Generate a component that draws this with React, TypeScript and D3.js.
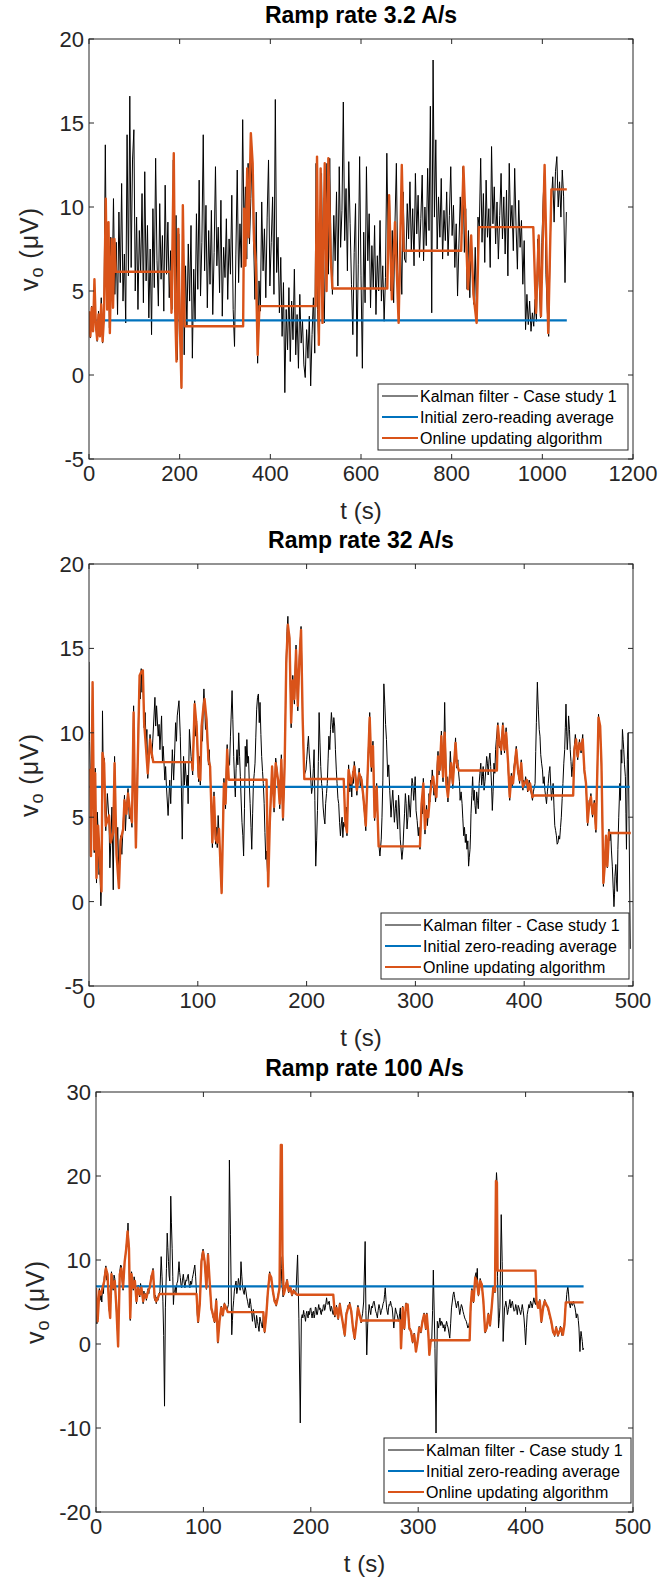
import * as d3 from 'd3';

const FONT = '"Liberation Sans", Arial, Helvetica, sans-serif';
const AXIS = '#262626';
const BLUE = '#0072BD';
const ORANGE = '#D95319';

type Pt = [number, number];

// ---- Ramp rate 3.2 A/s ----
const KALMAN1_DT = 3; // one value every 3 s, from t = 0
const kalman1 = [
  3.5, 2.2, 4.1, 2.6, 5.4, 3.0, 2.0, 3.8, 2.4, 4.6, 1.9, 3.6, 13.7, 4.2, 9.0, 2.8,
  8.2, 5.1, 10.5, 4.8, 7.9, 3.6, 9.7, 5.5, 11.4, 4.4, 7.2, 3.1, 14.3, 5.9, 16.6, 6.4,
  12.8, 14.6, 5.0, 9.4, 3.9, 8.6, 6.1, 10.8, 4.3, 12.1, 5.6, 8.9, 3.4, 7.5, 2.4, 9.9,
  5.2, 12.9, 6.8, 4.1, 10.2, 5.7, 8.3, 3.8, 11.3, 6.0, 9.1, 4.6, 7.4, 3.9, 12.8, 4.2,
  9.5, 0.9, 8.4, 2.6, -0.8, 10.0, 1.2, 6.5, 2.9, 7.8, 4.4, 8.9, 1.0, 6.3, 3.2, 9.6,
  5.1, 11.6, 4.7, 7.9, 14.3, 6.2, 10.1, 4.0, 8.6, 5.4, 9.8, 3.6, 7.3, 12.4, 6.5, 8.8,
  4.9, 10.4, 3.5, 7.6, 5.8, 9.3, 4.5, 8.1, 6.0, 10.7, 3.9, 1.7, 7.2, 12.2, 5.5, 9.0,
  6.4, 15.2, 8.3, 11.2, 6.9, 12.6, 7.8, 10.5, 13.4, 8.1, 4.5, 9.7, 0.7, 5.6, 3.8, 10.3,
  6.2, 8.7, 4.6, 9.4, 12.8, 5.3, 7.9, 10.6, 4.8, 16.4, 6.1, 8.2, 3.7, 7.0, 2.3, 5.5,
  -1.05, 3.9, 1.5, 5.2, 0.8, 4.4, 2.1, 6.3, 1.2, 3.6, 0.4, 4.8, 1.9, 3.2, 0.6, -0.15,
  2.7, 1.0, 3.5, -0.65, 2.4, 4.6, 1.3, 12.6, 3.9, 1.8, 7.5, 12.0, 5.1, 3.1, 8.4, 12.6,
  6.0, 12.9, 7.2, 4.8, 9.5, 6.8, 10.9, 5.3, 12.4, 7.6, 9.8, 16.25, 8.0, 11.1, 6.2, 12.7,
  9.0, 5.4, 2.4, 7.3, 10.2, 1.1, 6.6, 13.0, 5.9, 0.4, 8.5, 4.3, 12.4, 6.8, 9.6, 4.0,
  7.7, 5.2, 8.9, 3.6, 7.1, 5.0, 9.2, 4.4, 6.5, 3.2, 5.8, 13.2, 7.5, 10.4, 5.0, 8.6,
  4.3, 9.1, 12.6, 6.2, 3.3, 8.0, 4.8, 10.9, 6.9, 6.7, 10.2, 8.1, 11.5, 7.4, 9.9, 6.5,
  12.0, 8.4, 10.7, 7.0, 9.3, 11.9, 6.8, 10.0, 7.7, 12.3, 8.6, 16.0, 3.7, 18.75, 9.4, 14.0,
  7.5, 10.6, 8.2, 11.7, 6.9, 9.8, 8.0, 10.9, 7.1, 9.5, 12.4, 8.3, 10.1, 6.4, 9.0, 4.7,
  7.8, 10.6, 8.4, 12.4, 7.3, 9.9, 5.1, 8.6, 4.6, 8.3, 6.0, 4.2, 7.6, 3.1, 9.4, 8.8,
  12.9, 7.9, 10.8, 6.7, 11.6, 8.2, 9.9, 6.4, 13.6, 9.0, 11.2, 7.8, 10.3, 6.9, 9.5, 12.0,
  8.1, 10.6, 7.2, 11.0, 5.9, 12.6, 8.8, 10.1, 7.4, 12.3, 8.9, 6.3, 10.4, 7.6, 9.2, 5.4,
  8.0, 2.7, 4.8, 3.0, 4.4, 2.6, 3.7, 2.9, 4.5, 3.2, 8.1, 5.5, 3.4, 7.9, 10.6, 12.2,
  6.0, 3.8, 2.3, 7.5, 10.4, 11.8, 9.1, 12.1, 13.0, 10.0, 11.5, 9.4, 12.2, 10.6, 5.5, 9.7,
];
const online1: Pt[] = [
  [0, 3.8], [3, 2.3], [6, 4.0], [9, 2.6], [12, 5.7], [15, 3.0], [18, 2.1], [21, 3.6], [24, 2.3],
  [27, 4.2], [30, 2.0], [33, 3.4], [37, 10.5], [40, 3.9], [43, 9.1], [46, 2.5], [50, 8.1], [53, 4.0],
  [56, 8.1], [59, 6.15], [180, 6.15], [182, 3.7], [187, 13.2], [190, 4.0], [193, 0.8], [197, 8.7],
  [200, 3.5], [204, -0.75], [207, 10.1], [211, 2.9], [340, 2.9], [342, 9.9], [345, 6.5], [349, 12.3],
  [352, 8.2], [357, 14.4], [361, 12.6], [364, 8.0], [368, 6.7], [372, 1.2], [376, 4.1], [500, 4.1],
  [503, 13.0], [507, 1.8], [511, 12.3], [515, 3.1], [520, 12.6], [524, 5.0], [528, 12.9], [533, 7.0],
  [537, 5.15], [658, 5.15], [662, 10.7], [668, 4.5], [675, 9.1], [683, 3.1], [690, 12.5], [694, 7.4],
  [821, 7.4], [826, 12.4], [836, 5.1], [843, 8.3], [848, 4.8], [855, 3.1], [860, 8.8], [980, 8.8],
  [986, 3.7], [992, 8.3], [997, 3.5], [1005, 12.5], [1013, 2.5], [1020, 11.05], [1054, 11.05],
];
const zero1 = 3.25;
const end1 = 1054;

// ---- Ramp rate 32 A/s ----
const kalman2: Pt[] = [
  [0, 14.2], [0.6, 9.5], [1.2, 7.4], [1.8, 3.0], [2.5, 8.1], [3.3, 12.7], [4.1, 6.0], [4.8, 2.9], [5.7, 7.9],
  [6.3, 3.5], [6.9, 1.1], [7.6, 5.3], [8.4, 4.2], [9.2, 1.6], [10.0, 2.2], [10.9, -0.25], [11.5, 0.9], [12.4, 11.3],
  [13.2, 7.0], [13.9, 8.5], [14.6, 5.7], [15.4, 4.2], [16.9, 6.4], [18.4, 4.8], [19.2, 2.0], [19.9, 3.3], [21.1, 5.6],
  [22.3, 0.7], [23.5, 8.6], [24.4, 5.1], [25.3, 2.5], [26.4, 4.4], [27.5, 1.4], [29, 3.9], [30.2, 2.8], [31.4, 4.6],
  [32.6, 6.3], [33.5, 4.2], [34.4, 5.5], [35.9, 6.7], [37, 4.9], [38, 5.4], [39.5, 4.4], [40.2, 7.5], [41, 11.6],
  [41.9, 7.0], [43.1, 3.5], [43.8, 6.1], [44.6, 8.0], [45.5, 11.0], [46.5, 13.1], [47.2, 12.0], [48, 13.8], [48.7, 12.4],
  [49.5, 13.5], [50.7, 10.3], [51.6, 11.2], [52.5, 9.3], [53.2, 10.2], [54, 7.3], [55, 8.5], [56.1, 9.9], [57.6, 8.5],
  [58.5, 9.4], [60.6, 12.1], [61.3, 10.4], [62.1, 11.6], [63.6, 9.8], [64.4, 10.5], [65.2, 9.0], [66.7, 11.0], [67.5, 8.3],
  [68.2, 9.2], [69.7, 7.2], [70.4, 8.0], [71.2, 6.8], [72.7, 5.1], [73.5, 6.2], [74.2, 7.2], [75.1, 5.8], [76.6, 9.0],
  [77.8, 7.2], [78.7, 8.8], [79.6, 10.6], [80.4, 9.5], [81.1, 11.0], [82.7, 11.9], [83.9, 9.8], [84.8, 7.2], [85.7, 3.7],
  [86.9, 8.6], [87.7, 6.9], [88.4, 8.2], [89.9, 6.8], [90.5, 7.5], [91.1, 5.8], [92.3, 10.2], [93.8, 8.6], [95.3, 7.5],
  [96.2, 9.4], [97.1, 11.9], [98, 9.8], [98.9, 10.7], [99.8, 8.4], [100.8, 7.1], [101.5, 8.6], [102.3, 6.9], [103.5, 10.6],
  [104.3, 9.5], [105, 11.6], [105.6, 12.6], [106.2, 11.8], [107.1, 10.2], [108, 11.0], [108.9, 9.3], [109.8, 8.1], [110.5, 9.0],
  [111.3, 7.7], [112.4, 5.5], [113.4, 3.2], [114.1, 5.0], [114.9, 6.5], [115.6, 4.6], [116.4, 3.4], [117.2, 4.4], [117.9, 3.2],
  [118.7, 5.1], [119.5, 4.0], [120.7, 2.2], [121.9, 0.6], [123, 4.5], [124, 7.3], [124.7, 6.3], [125.5, 5.5], [126.2, 7.8],
  [127, 9.3], [127.7, 8.0], [129.2, 8.1], [130, 9.8], [131.5, 12.5], [132.2, 10.8], [133, 8.6], [133.8, 7.1], [134.5, 6.2],
  [135.2, 7.9], [136, 9.0], [136.8, 8.1], [137.6, 10.0], [138.4, 8.6], [139.1, 7.4], [139.9, 5.9], [140.6, 4.7], [141.4, 3.9],
  [142.1, 2.7], [142.9, 5.5], [143.6, 9.2], [144.4, 8.0], [145.1, 9.6], [145.9, 8.2], [146.6, 8.6], [147.4, 6.9], [148.1, 5.8],
  [148.9, 4.4], [149.6, 3.1], [150.4, 5.2], [151.1, 7.0], [151.9, 7.6], [152.6, 8.2], [153.3, 9.7], [154.1, 11.4], [154.9, 12.1],
  [155.7, 12.3], [156.5, 10.6], [157.2, 11.8], [158, 9.9], [158.7, 8.6], [159.5, 7.7], [160.2, 7.0], [161, 5.8], [161.7, 4.1],
  [162.5, 2.5], [163.2, 3.0], [164, 1.8], [164.7, 1.2], [165.5, 3.2], [166.2, 5.0], [167.2, 6.1], [168.3, 7.8], [169.2, 6.8],
  [170.1, 5.3], [170.9, 7.1], [171.6, 8.5], [172.7, 7.9], [173.8, 6.9], [174.5, 6.8], [175.3, 5.5], [176, 7.0], [176.8, 8.7],
  [177.6, 6.2], [178.3, 4.8], [179.1, 6.5], [179.8, 8.3], [180.6, 11.2], [181.3, 14.5], [182, 16.0], [182.8, 16.9], [183.5, 15.5],
  [184.3, 15.9], [185, 13.0], [185.8, 10.3], [186.5, 12.0], [187.3, 13.4], [188, 12.5], [188.8, 11.7], [189.5, 13.8], [190.3, 15.2],
  [191.1, 13.0], [191.9, 11.3], [192.6, 12.8], [193.4, 14.6], [194.2, 15.5], [194.9, 16.3], [195.7, 13.5], [196.4, 10.5], [197.2, 8.8],
  [197.9, 7.5], [199.4, 7.8], [200.1, 8.4], [200.9, 9.2], [201.7, 9.8], [202.4, 8.8], [203.2, 8.1], [203.9, 7.2], [204.6, 6.4],
  [205.4, 6.8], [206.2, 7.9], [206.9, 9.0], [207.6, 6.0], [208.4, 2.1], [209.2, 3.6], [210, 5.4], [210.8, 8.3], [211.5, 11.2],
  [212.3, 9.4], [213, 8.0], [213.8, 7.0], [214.5, 6.6], [215.2, 5.6], [216, 5.0], [216.8, 4.6], [217.5, 5.8], [218.3, 6.4],
  [219, 7.0], [219.8, 8.5], [220.5, 9.8], [221.3, 9.0], [222, 10.2], [222.8, 11.2], [223.5, 10.6], [224.3, 10.0], [225, 10.9],
  [225.8, 10.4], [226.5, 9.0], [227.3, 7.8], [228, 7.0], [228.8, 6.1], [229.5, 5.8], [230.3, 4.7], [231.1, 3.9], [231.9, 4.6],
  [232.6, 5.0], [233.3, 3.8], [234.1, 4.7], [235.6, 4.4], [236.4, 5.6], [237.1, 3.9], [237.9, 6.1], [238.6, 8.1], [239.7, 6.5],
  [240.8, 7.2], [241.5, 6.2], [242.3, 7.7], [243, 7.0], [243.8, 8.3], [245, 7.6], [246.2, 6.3], [247.2, 7.2], [248.3, 7.9],
  [249.4, 6.8], [250.5, 7.4], [251.4, 6.5], [252.2, 6.0], [253.3, 5.2], [254.4, 4.2], [255.1, 5.8], [255.8, 7.3], [257, 9.4],
  [258, 11.2], [258.8, 9.1], [259.5, 7.7], [260.2, 8.6], [261, 9.5], [261.8, 7.3], [262.5, 4.8], [263.5, 6.0], [264.4, 7.0],
  [265.3, 5.2], [266.2, 3.5], [267.4, 2.7], [268.6, 3.7], [269.3, 5.0], [270.1, 7.2], [271, 12.9], [271.9, 11.7], [272.6, 10.5],
  [273.4, 9.6], [274.6, 7.4], [275.5, 8.1], [276.4, 6.6], [277.6, 5.0], [278.4, 5.9], [279.2, 6.6], [280.7, 4.7], [281.5, 5.5],
  [282.2, 6.0], [283, 4.9], [283.7, 4.3], [284.5, 6.3], [285.2, 5.6], [286.1, 3.7], [287.6, 2.5], [288.5, 3.1], [289.3, 4.3],
  [290, 5.2], [290.8, 6.4], [291.5, 5.8], [292.3, 4.3], [293.1, 5.0], [293.8, 6.3], [294.6, 5.6], [295.3, 5.0], [296.1, 6.2],
  [296.9, 7.3], [297.6, 7.0], [298.4, 6.0], [299.1, 6.6], [299.8, 7.4], [300.6, 5.4], [301.6, 4.8], [302.7, 3.9], [303.4, 4.4],
  [304.2, 3.1], [305.7, 6.1], [306.5, 5.2], [307.3, 7.3], [308, 5.8], [308.8, 4.0], [309.5, 5.0], [310.3, 5.7], [311, 4.5],
  [311.8, 5.2], [312.5, 6.4], [313.3, 5.9], [314, 7.2], [314.8, 6.8], [315.5, 7.8], [316.3, 7.1], [317, 6.3], [317.8, 6.9],
  [318.5, 5.9], [319.3, 6.5], [320, 8.1], [320.8, 8.9], [321.6, 7.5], [322.4, 8.1], [323.1, 9.0], [323.9, 10.1], [324.6, 8.0],
  [325.4, 7.1], [326.2, 9.1], [326.9, 11.8], [327.6, 9.4], [328.4, 6.8], [329.1, 7.4], [329.9, 5.9], [330.6, 6.9], [331.4, 7.5],
  [332.1, 8.9], [332.9, 7.9], [333.6, 7.4], [334.4, 6.7], [335.6, 8.3], [336.9, 9.7], [337.5, 8.6], [338.1, 7.9], [339, 8.4],
  [339.9, 7.5], [340.5, 7.1], [341.1, 6.0], [342, 6.5], [342.9, 5.8], [343.6, 4.9], [344.4, 3.9], [345.1, 4.4], [345.9, 3.5],
  [346.6, 4.0], [347.4, 3.1], [348.2, 3.6], [348.9, 2.1], [349.5, 2.6], [350.2, 3.1], [350.7, 4.0], [351.1, 5.2], [351.9, 6.3],
  [352.6, 7.4], [353.4, 6.0], [354.1, 6.6], [354.8, 5.7], [355.6, 5.2], [356.3, 6.5], [357.1, 6.0], [357.8, 5.5], [358.6, 7.0],
  [359.3, 7.6], [360.1, 8.2], [360.9, 6.9], [361.6, 7.4], [362.3, 8.0], [363.1, 6.6], [363.9, 7.1], [364.7, 7.8], [365.5, 8.6],
  [366.2, 8.2], [366.9, 7.5], [367.7, 8.4], [368.5, 8.8], [369.2, 8.0], [370, 6.9], [370.7, 5.4], [371.4, 6.5], [372.2, 8.2],
  [373, 7.6], [373.7, 9.0], [374.4, 9.6], [375.8, 10.6], [376.5, 9.3], [377.3, 9.1], [378.1, 9.5], [378.9, 8.7], [379.6, 9.9],
  [380.4, 10.6], [381.2, 9.5], [381.9, 8.8], [382.6, 9.7], [383.4, 10.3], [384.3, 9.2], [385.2, 7.9], [385.9, 7.0], [386.7, 6.0],
  [387.5, 6.9], [388.2, 7.6], [388.9, 6.8], [389.7, 7.3], [390.4, 7.9], [391.2, 8.3], [392, 8.7], [392.7, 9.2], [393.5, 8.4],
  [394.3, 7.6], [395, 7.4], [395.8, 7.0], [396.6, 7.8], [397.3, 8.4], [398, 7.3], [398.8, 6.6], [399.5, 7.2], [400.3, 6.8],
  [401.3, 7.4], [402.4, 7.0], [403.1, 6.5], [403.9, 6.8], [404.6, 7.2], [405.4, 6.7], [406.5, 6.4], [407.6, 6.0], [408.4, 6.5],
  [410, 7.0], [410.6, 8.9], [411.2, 10.6], [412.1, 13.0], [412.6, 12.0], [413, 11.4], [413.8, 10.2], [414.5, 9.8], [415.2, 8.7],
  [416, 8.2], [416.8, 7.8], [417.5, 7.0], [418.3, 7.4], [419, 6.6], [419.8, 6.2], [420.5, 5.8], [421.3, 6.5], [422.1, 7.0],
  [422.8, 7.6], [423.6, 8.0], [424.4, 6.9], [425.1, 6.0], [425.9, 6.6], [426.6, 7.0], [427.4, 5.6], [428.1, 4.5], [428.9, 4.2],
  [429.6, 3.9], [430.3, 3.4], [431.1, 3.5], [431.8, 3.9], [432.6, 3.7], [433.4, 4.4], [434.1, 5.0], [434.9, 6.1], [435.6, 7.0],
  [436.4, 8.2], [437.2, 9.0], [437.8, 10.3], [438.4, 11.7], [439, 10.1], [439.6, 9.0], [440.2, 9.8], [440.8, 11.0], [441.6, 10.2],
  [442.3, 9.0], [443, 8.3], [443.8, 7.4], [444.5, 8.0], [446.2, 9.3], [447, 9.9], [447.7, 9.4], [448.4, 8.8], [449.2, 8.4],
  [450, 9.1], [450.8, 9.6], [451.6, 9.1], [452.3, 8.8], [453, 9.4], [453.8, 9.9], [454.5, 8.7], [455.3, 7.6], [456, 7.4],
  [456.8, 6.8], [457.5, 5.9], [458.3, 4.5], [459, 5.2], [459.8, 6.0], [460.5, 5.7], [461.3, 6.4], [462, 5.6], [462.8, 5.0],
  [463.6, 5.5], [464.4, 6.0], [465.1, 5.0], [465.9, 4.1], [466.6, 6.0], [467.4, 8.5], [467.9, 9.9], [468.3, 11.1], [469, 10.5],
  [469.8, 10.1], [470.4, 9.0], [471, 8.0], [471.5, 6.3], [471.9, 4.5], [472.4, 2.5], [472.8, 0.9], [473.4, 1.6], [474, 2.3],
  [474.6, 3.0], [475.2, 3.7], [475.8, 2.9], [476.4, 2.0], [477.2, 3.1], [477.9, 4.3], [478.7, 3.6], [479.5, 4.1], [480.2, 3.0],
  [481, 2.1], [481.8, 0.8], [482.5, -0.3], [483, 0.4], [483.4, 1.5], [484.2, 2.2], [484.9, 1.1], [485.5, 0.6], [486.1, 3.1],
  [486.9, 5.0], [487.9, 7.0], [488.5, 6.0], [489.1, 9.0], [489.7, 8.2], [490.3, 10.2], [490.9, 9.6], [491.5, 9.0], [492.2, 8.1],
  [493, 7.4], [493.5, 5.2], [494, 3.1], [494.8, 8.4], [495.5, 10.0], [496.5, 4.0], [497.5, -2.8],
];
const online2: Pt[] = [
  [0, 7.8], [1.2, 7.8], [1.8, 2.7], [3.3, 13.0], [4.8, 3.1], [5.7, 7.6], [6.9, 1.4], [8.4, 4.5], [10, 2.4], [11.5, 0.6],
  [12.4, 8.8], [13.9, 8.2], [15.4, 4.5], [18.4, 5.1], [19.9, 3.5], [22.3, 4.1], [23.5, 8.2], [25.3, 2.8], [27.5, 0.8],
  [29, 3.6], [31.4, 4.3], [32.6, 6.0], [34.4, 5.2], [35.9, 6.4], [38, 5.2], [39.5, 4.7], [41, 11.2], [41.9, 7.4], [43.1, 3.2],
  [44.6, 7.7], [46.5, 13.4], [48, 13.6], [49.5, 13.7], [50.7, 10.6], [52.5, 9.0], [54, 7.6], [56.1, 9.6], [57.6, 8.8],
  [59.1, 8.26], [94.7, 8.26], [95.3, 7.8], [97.1, 11.7], [98.9, 10.4], [100.8, 7.4], [102.3, 7.2], [103.5, 10.4], [105, 11.4],
  [106.2, 12.0], [108, 10.8], [109.8, 8.4], [111.3, 8.0], [113.4, 3.5], [114.9, 6.2], [116.4, 3.7], [117.9, 3.5], [119.5, 4.3],
  [121.9, 0.5], [124, 7.0], [125.5, 5.8], [127, 9.0], [128.5, 7.22], [163.2, 7.22], [164.7, 0.9], [166.2, 4.7], [168.3, 8.0],
  [170.1, 5.6], [171.6, 8.2], [173.8, 7.2], [175.3, 5.8], [176.8, 8.4], [178.3, 5.0], [179.8, 8.0], [181.3, 14.1], [182.8, 16.4],
  [184.3, 15.6], [185.8, 10.6], [187.3, 13.1], [188.8, 12.0], [190.3, 14.9], [191.9, 11.6], [193.4, 14.3], [194.9, 16.1],
  [196.4, 10.8], [197.9, 7.26], [234.1, 7.26], [235.6, 4.7], [237.1, 4.1], [238.6, 7.8], [240.8, 7.0], [242.3, 7.4], [243.8, 8.0],
  [246.2, 6.6], [248.3, 7.6], [250.5, 7.2], [252.2, 6.2], [254.4, 4.5], [255.8, 7.0], [258, 10.9], [259.5, 8.0], [261, 9.2],
  [262.5, 5.0], [264.4, 6.8], [266.2, 3.27], [304.2, 3.27], [305.7, 5.8], [307.3, 7.0], [308.8, 4.3], [310.3, 5.4], [311.8, 5.0],
  [313.3, 6.2], [314.8, 7.0], [316.3, 7.4], [317.8, 6.6], [319.3, 6.2], [320.8, 8.6], [322.4, 7.8], [323.9, 9.8], [325.4, 7.4],
  [326.9, 10.0], [328.4, 7.0], [329.9, 6.2], [331.4, 7.2], [332.9, 8.2], [334.4, 7.0], [336.9, 9.4], [338.1, 8.2], [339.9, 7.77],
  [374.9, 7.77], [375.8, 10.4], [377.3, 9.4], [378.9, 9.0], [380.4, 10.4], [381.9, 9.0], [383.4, 10.0], [385.2, 8.2], [386.7, 6.2],
  [388.2, 7.4], [389.7, 7.0], [391.2, 8.0], [392.7, 9.0], [394.3, 7.8], [395.8, 7.2], [397.3, 8.2], [398.8, 6.8], [400.3, 7.0],
  [402.4, 7.2], [403.9, 6.6], [405.4, 7.0], [407.6, 6.2], [409.1, 6.29], [445, 6.29], [446.2, 9.0], [447.7, 9.6], [449.2, 8.6],
  [450.8, 9.4], [452.3, 9.0], [453.8, 9.6], [455.3, 7.8], [456.8, 7.0], [458.3, 4.7], [459.8, 5.8], [461.3, 6.2], [462.8, 5.2],
  [464.4, 5.8], [465.9, 4.3], [467.4, 8.2], [468.3, 10.9], [469.8, 10.4], [471, 8.2], [471.9, 4.7], [472.8, 1.1], [474, 2.1],
  [475.2, 3.9], [476.4, 2.1], [477.9, 4.1], [479.5, 4.06], [498, 4.06],
];
const zero2 = 6.8;
const end2 = 497;

// ---- Ramp rate 100 A/s ----
const kalman3: Pt[] = [
  [0, 4.5], [0.8, 2.4], [1.5, 3.0], [2.3, 5.4], [3.1, 6.6], [3.8, 5.2], [4.6, 6.2], [5.4, 5.0], [6.1, 7.0], [6.9, 6.0],
  [7.7, 8.0], [8.4, 8.6], [9.2, 9.3], [10, 7.6], [10.7, 8.6], [11.5, 6.2], [12.3, 4.0], [13.2, 3.4], [13.8, 6.0], [14.4, 8.6],
  [15.2, 7.4], [16, 6.4], [16.8, 8.2], [17.5, 7.8], [18.3, 5.6], [19, 4.0], [19.8, 2.0], [20.6, 0.2], [21.3, 5.0], [22.1, 8.6],
  [22.9, 9.4], [23.6, 9.3], [24.4, 7.6], [25.2, 6.4], [26, 8.4], [26.7, 10.1], [27.5, 10.6], [28.2, 11.7], [28.8, 12.6],
  [29.4, 13.2], [29.8, 14.4], [30.7, 11.1], [31.3, 6.0], [31.9, 2.8], [32.5, 5.5], [33.1, 8.6], [33.9, 7.3], [34.7, 6.4],
  [35.5, 8.0], [36.2, 7.2], [37, 6.2], [37.7, 4.8], [38.5, 6.5], [39.3, 7.0], [40, 6.0], [40.8, 5.6], [41.5, 7.2], [42.3, 6.4],
  [43.1, 5.8], [43.9, 4.8], [44.6, 6.3], [45.4, 5.6], [46.1, 6.0], [46.9, 5.2], [47.7, 6.0], [48.5, 6.6], [49.2, 6.0],
  [50, 6.9], [50.8, 7.4], [51.5, 8.2], [52.3, 8.0], [53.1, 9.0], [53.8, 7.0], [54.6, 5.2], [55.4, 5.8], [56.1, 4.8],
  [56.9, 5.6], [57.7, 5.2], [58.3, 5.9], [59.5, 6.2], [60.7, 10.4], [61.5, 8.0], [62.3, 5.1], [63, 1.0], [63.8, -7.4],
  [64.6, 4.3], [65.6, 9.0], [66.3, 13.2], [66.9, 11.5], [67.5, 9.8], [68.1, 8.1], [68.7, 7.5], [69.2, 12.5], [69.6, 17.6],
  [70.2, 14.5], [70.9, 11.4], [71.5, 8.0], [72.1, 4.7], [72.7, 6.2], [73.3, 6.3], [73.9, 6.9], [74.5, 5.9], [75.3, 7.2],
  [76.1, 7.5], [76.7, 8.7], [77.3, 9.8], [77.9, 8.5], [78.5, 7.9], [79.2, 7.0], [79.8, 6.7], [80.5, 7.6], [81.3, 8.3],
  [82, 7.4], [82.8, 6.7], [83.6, 7.6], [84.4, 7.5], [85.1, 8.0], [85.9, 8.3], [86.6, 7.2], [87.4, 6.7], [88.2, 7.5],
  [89, 7.1], [89.7, 7.8], [90.5, 8.3], [91.3, 8.9], [92, 9.4], [92.8, 8.0], [93.6, 5.9], [94.3, 3.5], [95.1, 2.5], [95.8, 3.6],
  [96.6, 5.0], [97.4, 7.5], [98.2, 10.1], [98.9, 10.8], [99.7, 11.3], [100.5, 10.5], [101.2, 9.6], [102, 8.2], [102.8, 6.5],
  [103.5, 8.9], [104.3, 10.8], [105, 9.2], [105.8, 7.3], [106.6, 5.6], [107.4, 4.0], [108.1, 3.9], [108.9, 3.2], [109.6, 3.0],
  [110.4, 2.5], [111.2, 4.0], [112, 5.4], [112.7, 2.8], [113.5, 0.1], [114.2, 1.5], [115, 2.9], [115.8, 3.7], [116.6, 4.5],
  [117.3, 3.9], [118.1, 3.3], [118.8, 4.2], [119.6, 4.9], [120.4, 4.5], [121.2, 4.1], [121.9, 4.0], [123.3, 4.7], [124.2, 21.9],
  [125.2, 13.0], [126.4, 1.1], [127, 2.8], [127.6, 4.3], [128.2, 5.2], [128.8, 6.3], [129.6, 7.0], [130.4, 7.5], [131.1, 6.0],
  [131.9, 6.7], [132.6, 7.8], [133.4, 7.1], [134.2, 6.4], [135, 9.8], [135.8, 8.0], [136.5, 6.7], [137.3, 6.2], [138, 5.9],
  [138.8, 6.9], [139.6, 6.3], [140.3, 5.6], [141.1, 5.1], [141.8, 4.6], [142.6, 4.3], [143.4, 5.4], [144.2, 4.7], [144.9, 3.8],
  [145.7, 2.7], [146.5, 4.1], [147.2, 3.5], [148, 2.6], [148.8, 1.9], [149.5, 3.4], [150.3, 2.7], [151, 2.2], [151.8, 1.5],
  [152.6, 3.2], [153.4, 2.7], [154.1, 2.3], [154.9, 1.9], [155.8, 3.5], [156.4, 2.0], [157, 1.3], [157.8, 2.3], [158.6, 3.7],
  [159.3, 5.2], [160.1, 6.5], [160.9, 7.6], [161.7, 8.6], [162.4, 8.0], [163.2, 7.7], [163.9, 7.0], [164.7, 6.1], [165.5, 5.6],
  [166.3, 4.9], [167, 5.2], [167.8, 4.5], [168.5, 5.2], [169.3, 5.7], [170.1, 6.2], [170.9, 6.9], [171.5, 8.0], [172.1, 10.4],
  [172.6, 9.0], [173, 7.4], [173.6, 6.5], [174.2, 5.6], [174.8, 6.1], [175.6, 6.9], [176.4, 6.5], [177.1, 7.3], [177.9, 7.7],
  [178.6, 6.9], [179.4, 6.1], [180.2, 6.6], [181, 6.9], [181.7, 6.2], [182.5, 5.7], [183.2, 6.0], [184, 6.5], [184.8, 6.3],
  [185.6, 5.9], [186.3, 6.4], [187.7, 10.6], [188.9, 3.0], [190.2, -9.4], [191.2, 3.0], [192, 3.5], [192.6, 3.1], [193.3, 4.0],
  [193.9, 3.5], [194.5, 3.2], [195.1, 2.7], [195.7, 3.6], [196.3, 3.9], [196.9, 3.3], [197.5, 3.1], [198.1, 3.9], [198.8, 3.5],
  [199.4, 4.2], [200, 4.3], [200.6, 3.6], [201.2, 3.1], [201.9, 3.8], [202.5, 3.9], [203.1, 3.1], [203.7, 3.5], [204.3, 4.4],
  [204.9, 4.3], [205.5, 3.5], [206.1, 3.5], [206.8, 4.2], [207.4, 4.7], [208, 4.1], [208.6, 4.3], [209.2, 3.7], [209.8, 3.5],
  [210.4, 4.1], [211, 3.9], [211.7, 4.6], [212.3, 4.7], [212.9, 4.0], [213.5, 4.3], [214.1, 4.9], [214.7, 5.5], [215.3, 4.8],
  [216, 4.7], [216.6, 5.0], [217.2, 5.1], [217.8, 4.3], [218.4, 3.9], [219, 4.5], [219.6, 4.3], [220.3, 3.7], [220.9, 3.5],
  [221.6, 4.0], [222.4, 3.2], [223.1, 3.8], [223.9, 4.6], [224.7, 3.9], [225.5, 2.9], [226.2, 3.8], [227, 4.9], [227.7, 4.1],
  [228.5, 3.3], [229.3, 2.9], [230.1, 2.1], [230.8, 1.5], [231.6, 0.9], [232.3, 2.2], [233.1, 3.8], [233.9, 4.0], [234.7, 4.6],
  [235.4, 4.2], [236.2, 5.0], [237, 4.4], [237.7, 3.6], [238.5, 2.8], [239.3, 1.7], [240, 1.2], [240.8, 0.5], [241.5, 1.6],
  [242.3, 2.6], [243.1, 3.6], [243.9, 4.6], [244.6, 4.0], [245.4, 3.3], [246.2, 3.1], [246.9, 2.5], [247.6, 3.2], [248.2, 3.6],
  [249.2, 5.0], [250.6, 12.2], [251.3, 4.0], [252.1, -1.3], [253, 2.4], [254.3, 4.7], [255.1, 4.0], [255.8, 3.5], [256.6, 4.5],
  [257.4, 4.3], [258.1, 4.9], [258.9, 5.1], [259.7, 4.5], [260.4, 3.9], [261.2, 3.6], [262, 3.1], [262.7, 4.0], [263.5, 4.7],
  [264.3, 4.2], [265, 3.5], [265.8, 4.0], [266.6, 4.3], [267.3, 4.8], [268.1, 5.1], [268.7, 5.9], [269.3, 6.7], [270, 5.3],
  [270.6, 4.3], [271.2, 3.8], [271.8, 3.5], [272.4, 4.3], [273, 4.7], [273.6, 4.6], [274.2, 5.1], [275, 4.6], [275.8, 4.3],
  [276.5, 3.2], [277.3, 1.9], [278, 3.0], [278.8, 4.3], [279.6, 3.8], [280.4, 3.5], [281.1, 3.0], [281.9, 2.7], [282.7, 3.6],
  [283.4, 4.3], [284, -0.3], [284.8, 2.0], [285.6, 4.5], [286.3, 3.0], [287.1, 1.7], [287.9, 3.4], [288.7, 4.9], [289.4, 4.4],
  [290.2, 4.6], [291, 3.0], [291.7, 1.7], [292.5, 1.9], [293.3, 1.3], [294, 0.9], [294.8, 0.1], [295.5, 0.6], [296.3, 1.3],
  [297.1, 0.2], [297.9, -0.7], [298.6, -0.1], [299.4, 0.5], [300.1, 1.3], [300.9, 2.1], [301.7, 1.7], [302.5, 1.3], [303.2, 2.0],
  [304, 2.9], [304.8, 3.2], [305.5, 3.7], [306.3, 2.7], [307.1, 1.7], [307.6, 2.8], [308, 3.7], [308.7, 2.2], [309.5, 0.9],
  [310, -0.4], [310.4, -1.1], [311, -0.1], [311.7, 0.6], [312.6, 0.3], [313.4, 4.0], [314.1, 8.8], [315.6, -0.5], [316.6, -10.6],
  [317.8, 2.7], [318.4, 2.3], [319, 1.9], [319.6, 2.6], [320.2, 3.1], [321, 2.2], [321.8, 2.7], [322.5, 2.5], [323.3, 1.9],
  [324, 2.3], [324.8, 1.5], [325.6, 2.1], [326.4, 2.7], [327.1, 2.3], [327.9, 1.9], [328.6, 1.3], [329.4, 0.7], [330.2, 2.4],
  [331, 4.3], [331.7, 5.0], [332.5, 5.9], [333.2, 6.2], [334, 5.5], [334.8, 4.9], [335.6, 4.3], [336.3, 4.8], [337.1, 5.1],
  [337.9, 4.3], [338.7, 3.5], [339.5, 4.2], [340.2, 4.7], [341, 4.4], [341.7, 3.9], [342.5, 3.5], [343.3, 3.1], [344, 2.9],
  [344.8, 2.7], [345.5, 2.3], [346.3, 1.9], [347.1, 2.2], [347.9, 2.7], [348.8, 4.0], [349.4, 5.3], [350, 6.6], [350.8, 5.8],
  [351.5, 4.9], [352.3, 6.4], [353.1, 8.1], [353.9, 8.5], [354.6, 7.3], [355, 9.0], [355.4, 7.0], [356.1, 5.7], [356.9, 6.6],
  [357.7, 7.8], [358.4, 7.4], [359.2, 6.9], [360, 6.1], [360.7, 4.9], [361.5, 3.0], [362.3, 1.3], [363, 1.5], [363.8, 2.1],
  [364.6, 2.8], [365.3, 3.7], [366.1, 2.9], [366.9, 2.1], [367.6, 3.1], [368.4, 4.5], [369.2, 5.6], [369.9, 6.9], [370.7, 6.5],
  [371.5, 6.1], [372, 12.0], [372.4, 18.6], [372.9, 20.4], [373.3, 19.5], [373.9, 8.0], [374.8, 1.9], [375.5, 3.0], [376.1, 4.3],
  [377.3, 15.4], [378.2, 9.8], [379.1, 0.3], [380.4, 4.3], [381, 4.6], [381.6, 5.1], [382.4, 4.4], [383.1, 3.5], [383.9, 4.1],
  [384.7, 4.7], [385.4, 5.3], [386.2, 4.3], [387, 4.8], [387.7, 5.1], [388.5, 4.4], [389.3, 3.9], [390, 4.0], [390.8, 4.7],
  [391.6, 4.2], [392.3, 3.5], [393.1, 4.6], [393.9, 4.3], [394.6, 3.9], [395.4, 3.5], [396.2, 4.1], [396.9, 4.7], [397.7, 4.0],
  [398.5, 3.1], [399.2, 1.8], [400, -0.1], [400.8, 2.0], [401.5, 3.5], [402.3, 4.1], [403.1, 4.7], [403.8, 4.3], [404.6, 5.1],
  [405.4, 4.8], [406.1, 4.3], [406.9, 4.9], [407.7, 5.5], [408.4, 5.0], [409.2, 4.7], [409.8, 5.4], [410.9, 4.8], [411.7, 4.5],
  [412.4, 5.0], [413.2, 5.3], [414, 3.9], [414.7, 2.5], [415.5, 3.6], [416.3, 4.5], [417, 4.8], [417.8, 5.3], [418.6, 5.0],
  [419.3, 4.5], [420.1, 4.6], [420.9, 4.1], [421.6, 3.8], [422.4, 3.3], [423.2, 2.9], [423.9, 2.5], [424.7, 2.0], [425.5, 1.3],
  [426.2, 1.4], [427, 0.9], [427.8, 1.6], [428.5, 2.1], [429.3, 1.5], [430.1, 0.9], [430.8, 1.2], [431.6, 1.7], [432.4, 2.1],
  [433.1, 1.6], [433.9, 1.0], [434.7, 1.3], [435.5, 2.0], [436.2, 2.6], [436.8, 4.0], [437.8, 5.0], [438.3, 5.9], [439.3, 6.9],
  [439.9, 6.2], [440.5, 5.1], [441.1, 4.6], [441.7, 4.3], [442.3, 5.0], [442.9, 4.7], [443.7, 4.6], [444.5, 5.1], [445.2, 4.7],
  [446, 4.3], [446.6, 3.8], [447.2, 3.1], [447.8, 3.6], [448.5, 3.5], [449.1, 2.8], [449.7, 1.9], [450.6, -0.9], [451.1, 0.6],
  [451.6, 1.5], [452.2, 0.9], [452.8, 0.3], [453.4, -0.7], [454, -0.5],
];
const online3: Pt[] = [
  [0, 6.7], [1.5, 2.7], [3.1, 6.3], [4.6, 5.9], [6.1, 6.7], [7.7, 7.5], [9.2, 9.0], [10.7, 8.3], [12.3, 4.3], [13.2, 3.1],
  [14.4, 8.3], [16, 6.7], [17.5, 7.5], [19, 4.3], [20.6, -0.3], [22.1, 8.3], [23.6, 9.0], [25.2, 6.7], [26.7, 9.8], [28.2, 11.4],
  [29.4, 13.4], [30.7, 11.4], [31.9, 3.1], [33.1, 8.3], [34.7, 6.7], [36.2, 7.5], [37.7, 5.1], [39.3, 6.7], [40.8, 5.9],
  [42.3, 6.7], [43.9, 5.1], [45.4, 5.9], [46.9, 5.5], [48.5, 6.3], [50, 6.7], [51.5, 7.9], [53.1, 8.7], [54.6, 5.5], [56.1, 5.1],
  [57.7, 5.5], [58.9, 5.95], [93.6, 5.95], [95.1, 2.7], [96.6, 4.7], [98.2, 9.8], [99.7, 11.0], [101.2, 9.8], [102.8, 6.7],
  [104.3, 10.6], [105.8, 7.5], [107.4, 4.3], [108.9, 3.5], [110.4, 2.7], [112, 5.1], [113.5, 0.3], [115, 2.7], [116.6, 4.3],
  [118.1, 3.5], [119.6, 4.7], [121.2, 4.3], [122.7, 3.8], [155.8, 3.8], [157, 1.5], [158.6, 3.5], [160.1, 6.3], [161.7, 8.3],
  [163.2, 7.9], [164.7, 6.3], [166.3, 5.1], [167.8, 4.7], [169.3, 5.5], [170.9, 6.7], [171.5, 16.2], [172.1, 23.7], [173, 23.7],
  [173.6, 10.6], [174.8, 5.9], [176.4, 6.7], [177.9, 7.5], [179.4, 6.3], [181, 6.7], [182.5, 5.9], [184, 6.3], [185.6, 6.1],
  [187.1, 5.87], [220.9, 5.87], [222.4, 3.5], [223.9, 4.3], [225.5, 3.1], [227, 4.7], [228.5, 3.5], [230.1, 2.3], [231.6, 1.1],
  [233.1, 3.5], [234.7, 4.3], [236.2, 4.7], [237.7, 3.9], [239.3, 1.9], [240.8, 0.7], [242.3, 2.3], [243.9, 4.3], [245.4, 3.5],
  [246.9, 2.7], [248.2, 2.8], [283.4, 2.8], [284, -0.5], [285.6, 4.3], [287.1, 1.9], [288.7, 4.7], [290.2, 4.7], [291.7, 1.9],
  [293.3, 1.5], [294.8, 0.3], [296.3, 1.1], [297.9, -0.9], [299.4, 0.3], [300.9, 1.9], [302.5, 1.5], [304, 2.7], [305.5, 3.5],
  [307.1, 1.9], [308, 3.5], [309.5, 1.1], [310.4, -1.3], [311.7, 0.45], [347.9, 0.45], [348.8, 4.3], [350, 6.3], [351.5, 5.1],
  [353.1, 7.9], [354.6, 7.5], [356.1, 5.9], [357.7, 7.5], [359.2, 7.1], [360.7, 5.1], [362.3, 1.5], [363.8, 1.9], [365.3, 3.5],
  [366.9, 2.3], [368.4, 4.3], [369.9, 6.7], [371.5, 6.3], [372.4, 19.4], [373.3, 19.2], [373.9, 8.73], [409.2, 8.73],
  [410.1, 5.1], [411.7, 4.3], [413.2, 5.1], [414.7, 2.7], [416.3, 4.3], [417.8, 5.1], [419.3, 4.7], [420.9, 4.3], [422.4, 3.5],
  [423.9, 2.7], [425.5, 1.5], [427, 1.1], [428.5, 1.9], [430.1, 1.1], [431.6, 1.5], [433.1, 1.9], [434.7, 1.1], [436.2, 2.3],
  [437.4, 4.96], [454, 4.96],
];
const zero3 = 6.87;
const end3 = 454;

const xTicks1 = [0, 200, 400, 600, 800, 1000, 1200];
const xTicks23 = [0, 100, 200, 300, 400, 500];
const yTicks12 = [-5, 0, 5, 10, 15, 20];
const yTicks3 = [-20, -10, 0, 10, 20, 30];
const legendLabels = ['Kalman filter - Case study 1', 'Initial zero-reading average', 'Online updating algorithm'];

type PanelProps = {
  id: string;
  title: string;
  left: number; right: number; top: number; bottom: number;
  xDomain: [number, number]; yDomain: [number, number];
  xTicks: number[]; yTicks: number[];
  kalman: Pt[]; online: Pt[]; zero: number; zeroEnd: number;
  legend: { x: number; y: number; w: number; h: number };
  ylabelX: number;
};

function Panel(p: PanelProps) {
  const x = d3.scaleLinear().domain(p.xDomain).range([p.left, p.right]);
  const y = d3.scaleLinear().domain(p.yDomain).range([p.bottom, p.top]);
  const line = d3.line<Pt>().x((d) => x(d[0])).y((d) => y(d[1]));
  const tick = 5;
  const cx = (p.left + p.right) / 2;
  const cy = (p.top + p.bottom) / 2;
  const lg = p.legend;
  const rowY = [lg.y + 12, lg.y + 33, lg.y + 54];
  const colors = ['#000', BLUE, ORANGE];
  const widths = [1, 2, 2];
  return (
    <g>
      <defs>
        <clipPath id={`clip-${p.id}`}>
          <rect x={p.left} y={p.top} width={p.right - p.left} height={p.bottom - p.top} />
        </clipPath>
      </defs>
      <g clipPath={`url(#clip-${p.id})`} fill="none" strokeLinejoin="round">
        <path d={line(p.kalman) ?? ''} stroke="#000" strokeWidth={1} />
        <path d={line([[0, p.zero], [p.zeroEnd, p.zero]]) ?? ''} stroke={BLUE} strokeWidth={2.2} />
        <path d={line(p.online) ?? ''} stroke={ORANGE} strokeWidth={2.4} />
      </g>
      {/* axes box and ticks */}
      <rect x={p.left} y={p.top} width={p.right - p.left} height={p.bottom - p.top} fill="none" stroke={AXIS} strokeWidth={1} />
      {p.xTicks.map((t) => (
        <g key={`x${t}`}>
          <line x1={x(t)} x2={x(t)} y1={p.bottom} y2={p.bottom - tick} stroke={AXIS} />
          <line x1={x(t)} x2={x(t)} y1={p.top} y2={p.top + tick} stroke={AXIS} />
          <text x={x(t)} y={p.bottom + 22} textAnchor="middle" fontSize={22} fill={AXIS}>{t}</text>
        </g>
      ))}
      {p.yTicks.map((t) => (
        <g key={`y${t}`}>
          <line x1={p.left} x2={p.left + tick} y1={y(t)} y2={y(t)} stroke={AXIS} />
          <line x1={p.right} x2={p.right - tick} y1={y(t)} y2={y(t)} stroke={AXIS} />
          <text x={p.left - 5} y={y(t) + 8} textAnchor="end" fontSize={22} fill={AXIS}>{t}</text>
        </g>
      ))}
      <text x={cx} y={p.top - 16} textAnchor="middle" fontSize={23} fontWeight="bold" fill="#000">{p.title}</text>
      <text x={cx} y={p.bottom + 60} textAnchor="middle" fontSize={24} fill={AXIS}>t (s)</text>
      <text transform={`translate(${p.ylabelX},${cy}) rotate(-90)`} textAnchor="middle" fontSize={25}
        letterSpacing={1} fill={AXIS}>
        v<tspan fontSize={18} dy={5}>o</tspan><tspan dy={-5}> (</tspan><tspan>μ</tspan>V)
      </text>
      {/* legend */}
      <rect x={lg.x} y={lg.y} width={lg.w} height={lg.h} fill="#fff" stroke={AXIS} strokeWidth={1} />
      {legendLabels.map((label, i) => (
        <g key={label}>
          <line x1={lg.x + 4} x2={lg.x + 40} y1={rowY[i]} y2={rowY[i]} stroke={colors[i]} strokeWidth={widths[i]} />
          <text x={lg.x + 42} y={rowY[i] + 6} fontSize={16} fill="#000">{label}</text>
        </g>
      ))}
    </g>
  );
}

export default function App() {
  const byTime = (a: Pt, b: Pt) => a[0] - b[0];
  const k1: Pt[] = kalman1.map((v, i) => [i * KALMAN1_DT, v]);
  const k2 = [...kalman2].sort(byTime);
  const k3 = [...kalman3].sort(byTime);
  return (
    <svg width={662} height={1578} viewBox="0 0 662 1578"
      style={{ position: 'absolute', left: 0, top: 0, background: '#fff', fontFamily: FONT }}>
      <rect width={662} height={1578} fill="#fff" />
      <Panel id="a" title="Ramp rate 3.2 A/s" left={89} right={633} top={39} bottom={459}
        xDomain={[0, 1200]} yDomain={[-5, 20]} xTicks={xTicks1} yTicks={yTicks12}
        kalman={k1} online={online1} zero={zero1} zeroEnd={end1}
        legend={{ x: 378, y: 384, w: 250, h: 66 }} ylabelX={38} />
      <Panel id="b" title="Ramp rate 32 A/s" left={89} right={633} top={564} bottom={986}
        xDomain={[0, 500]} yDomain={[-5, 20]} xTicks={xTicks23} yTicks={yTicks12}
        kalman={k2} online={online2} zero={zero2} zeroEnd={end2}
        legend={{ x: 381, y: 913, w: 248, h: 66 }} ylabelX={38} />
      <Panel id="c" title="Ramp rate 100 A/s" left={96} right={633} top={1092} bottom={1512}
        xDomain={[0, 500]} yDomain={[-20, 30]} xTicks={xTicks23} yTicks={yTicks3}
        kalman={k3} online={online3} zero={zero3} zeroEnd={end3}
        legend={{ x: 384, y: 1438, w: 247, h: 65 }} ylabelX={44} />
    </svg>
  );
}
